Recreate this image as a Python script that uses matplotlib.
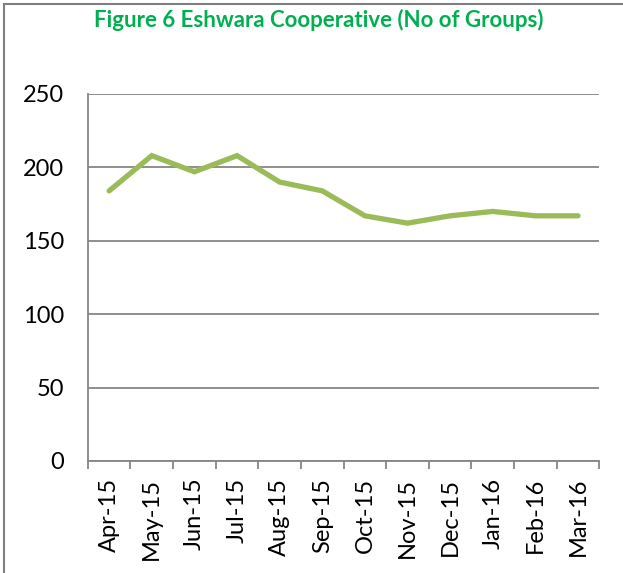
import matplotlib
matplotlib.use("Agg")
import matplotlib.pyplot as plt
from matplotlib.lines import Line2D
import numpy as np

# data
months = ['Apr-15', 'May-15', 'Jun-15', 'Jul-15', 'Aug-15', 'Sep-15',
          'Oct-15', 'Nov-15', 'Dec-15', 'Jan-16', 'Feb-16', 'Mar-16']
groups = [184, 208, 197, 208, 190, 184, 167, 162, 167, 170, 167, 167]
y_ticks = [0, 50, 100, 150, 200, 250]

plt.rcParams['font.family'] = ['Lato', 'DejaVu Sans']

fig = plt.figure(figsize=(6.23, 5.73), dpi=100)
ax = fig.add_axes([0.141, 0.1955, 0.821, 0.6405])

x = np.arange(len(months))
ax.plot(x, groups, color='#9BBB59', linewidth=3.8, solid_capstyle='round',
        solid_joinstyle='miter', zorder=3)

ax.set_xlim(-0.5, len(months) - 0.5)
ax.set_ylim(0, 250)
ax.set_yticks(y_ticks)
ax.set_yticklabels([str(v) for v in y_ticks], fontsize=17)
ax.tick_params(axis='y', length=0, pad=17)
ax.yaxis.grid(True, color='#868686', linewidth=1.3)
ax.set_axisbelow(True)

# Excel style ticks between categories
ax.set_xticks(np.arange(-0.5, len(months), 1.0))
ax.set_xticklabels([])
ax.set_xticks(x, minor=True)
ax.set_xticklabels(months, minor=True, rotation=90, fontsize=17)
ax.tick_params(axis='x', which='major', length=6, color='#868686', width=1.3)
ax.tick_params(axis='x', which='minor', length=0, pad=12)

for side in ['top', 'right']:
    ax.spines[side].set_visible(False)
for side in ['left', 'bottom']:
    ax.spines[side].set_color('#868686')
    ax.spines[side].set_linewidth(1.3)

fig.text(0.512, 0.965, 'Figure 6 Eshwara Cooperative (No of Groups)',
         color='#00B050', fontsize=16, fontweight='bold',
         ha='center', va='center')

# outer chart frame (left and top edges visible)
fig.add_artist(Line2D([0.0065, 0.0065], [0, 0.993], transform=fig.transFigure,
                      color='#7F7F7F', linewidth=1.5))
fig.add_artist(Line2D([0.0065, 1], [0.993, 0.993], transform=fig.transFigure,
                      color='#7F7F7F', linewidth=1.5))

fig.savefig('out.png', dpi=100)
